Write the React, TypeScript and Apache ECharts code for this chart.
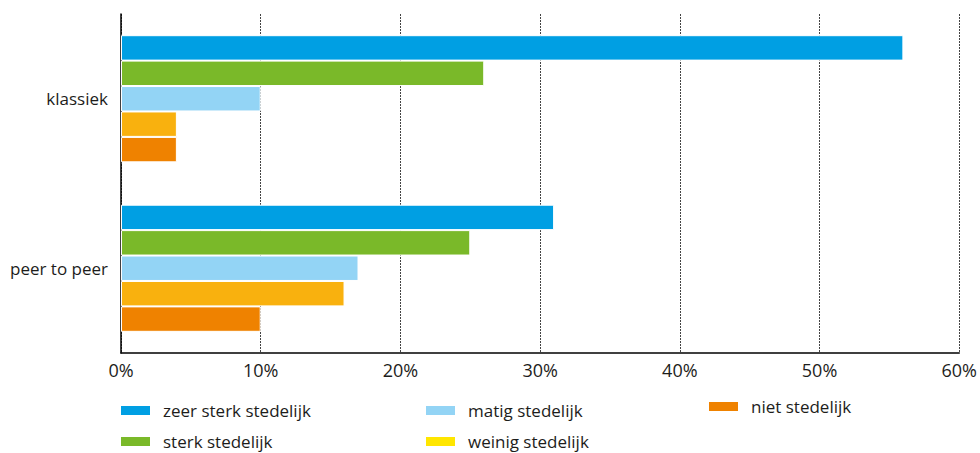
import React, { useEffect, useRef } from "react";
import * as echarts from "echarts";

const categories = ["klassiek", "peer to peer"];
const seriesNames = [
  "zeer sterk stedelijk",
  "sterk stedelijk",
  "matig stedelijk",
  "weinig stedelijk",
  "niet stedelijk",
];
const zeerSterk = [56, 31];
const sterk = [26, 25];
const matig = [10, 17];
const weinig = [4, 16];
const niet = [4, 10];
const xTicks = [0, 10, 20, 30, 40, 50, 60];

const barColors = ["#009FE3", "#7AB929", "#93D4F5", "#F9B10E", "#EF8200"];
const legendYellow = "#FFE600";

const FONT = "'Open Sans', sans-serif";
const TEXT = "#1d1d1b";

export default function App() {
  const ref = useRef<HTMLDivElement>(null);
  useEffect(() => {
    if (!ref.current) return;
    const chart = echarts.init(ref.current, undefined, { renderer: "svg" });
    const values = [zeerSterk, sterk, matig, weinig, niet];
    const legendCommon = {
      orient: "horizontal" as const,
      itemWidth: 31,
      itemHeight: 11,
      icon: "rect",
      textStyle: {
        fontFamily: FONT,
        fontSize: 17,
        lineHeight: 17,
        color: TEXT,
        padding: [0, 0, 0, 7],
      },
      selectedMode: false,
      padding: 0,
    };
    const legendPos = [
      { left: 119, top: 402 },
      { left: 119, top: 433 },
      { left: 424, top: 402 },
      { left: 424, top: 433 },
      { left: 707, top: 398 },
    ];
    chart.setOption({
      animation: false,
      grid: { left: 121, right: 19, top: 14, bottom: 100, containLabel: false },
      xAxis: {
        type: "value",
        min: xTicks[0],
        max: xTicks[xTicks.length - 1],
        interval: 10,
        axisLine: { show: true, lineStyle: { color: "#000", width: 1.5 } },
        axisTick: { show: false },
        axisLabel: {
          formatter: "{value}%",
          fontFamily: FONT,
          fontSize: 18,
          color: TEXT,
          margin: 8,
        },
        splitLine: { show: true, lineStyle: { color: "#444", type: [2, 1], width: 1 } },
      },
      yAxis: {
        type: "category",
        data: categories,
        inverse: true,
        axisLine: { show: true, onZero: false, lineStyle: { color: "#000", width: 1.5 } },
        axisTick: { show: false },
        axisLabel: { fontFamily: FONT, fontSize: 17, color: TEXT, margin: 13 },
        splitLine: { show: false },
      },
      legend: seriesNames.map((name, i) => ({
        ...legendCommon,
        ...legendPos[i],
        data: [i === 3 ? { name, itemStyle: { color: legendYellow } } : name],
      })),
      series: seriesNames.map((name, i) => ({
        name,
        type: "bar",
        data: values[i],
        barGap: "0%",
        barCategoryGap: "25%",
        itemStyle: { color: barColors[i], borderColor: "#fff", borderWidth: 1 },
        emphasis: { disabled: true },
      })),
    });
    return () => chart.dispose();
  }, []);
  return (
    <div
      ref={ref}
      style={{ position: "absolute", left: 0, top: 0, width: 980, height: 453 }}
    />
  );
}
